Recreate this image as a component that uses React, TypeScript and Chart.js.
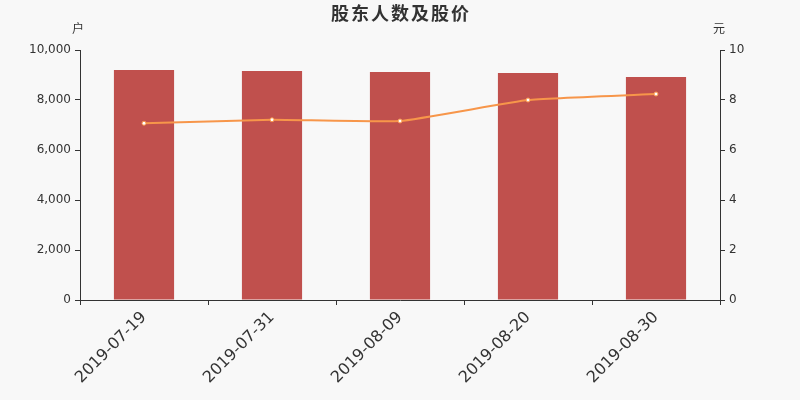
import Chart from "chart.js/auto";
import { useEffect, useRef } from "react";

const dates = ["2019-07-19", "2019-07-31", "2019-08-09", "2019-08-20", "2019-08-30"];
const holders = [9200, 9160, 9120, 9080, 8920];
const prices = [7.07, 7.21, 7.16, 8.0, 8.24];
const title = "股东人数及股价";
const leftUnit = "户";
const rightUnit = "元";

const textFont = "'DejaVu Sans', 'Noto Sans CJK SC', sans-serif";

const headerPlugin = {
  id: "header",
  afterDraw(chart: Chart) {
    const { ctx, chartArea } = chart;
    ctx.save();
    ctx.fillStyle = "#333";
    ctx.textAlign = "center";
    ctx.textBaseline = "middle";
    ctx.font = `bold 18px 'Noto Sans CJK SC', sans-serif`;
    (ctx as any).letterSpacing = "2px";
    ctx.fillText(title, chart.width / 2 + 1, 13);
    (ctx as any).letterSpacing = "0px";
    ctx.font = `12px 'Noto Sans CJK SC', sans-serif`;
    ctx.fillText(leftUnit, chartArea.left - 2, 28);
    ctx.fillText(rightUnit, chartArea.right - 1, 28);
    ctx.restore();
  },
};

export default function App() {
  const canvasRef = useRef<HTMLCanvasElement | null>(null);
  const chartRef = useRef<Chart | null>(null);

  useEffect(() => {
    document.body.style.margin = "0";
    document.body.style.background = "#f8f8f8";
    if (!canvasRef.current) return;
    chartRef.current?.destroy();

    chartRef.current = new Chart(canvasRef.current, {
      type: "bar",
      data: {
        labels: dates,
        datasets: [
          {
            type: "line",
            data: prices,
            yAxisID: "y1",
            borderColor: "#f7964a",
            borderWidth: 2,
            pointRadius: 2,
            pointBackgroundColor: "#ffffff",
            pointBorderColor: "#f7964a",
            pointBorderWidth: 1,
            tension: 0.12,
            order: 0,
          },
          {
            type: "bar",
            data: holders,
            yAxisID: "y",
            backgroundColor: "#c0504d",
            categoryPercentage: 0.47,
            barPercentage: 1,
            order: 1,
          },
        ],
      },
      options: {
        animation: false,
        responsive: true,
        maintainAspectRatio: false,
        layout: { padding: { top: 50, left: 0, right: 0, bottom: 0 } },
        plugins: {
          legend: { display: false },
          title: { display: false },
          tooltip: { enabled: false },
        },
        scales: {
          x: {
            afterFit(scale: any) {
              scale.height = 100;
            },
            grid: {
              offset: true,
              drawOnChartArea: false,
              tickLength: 5,
              color: "#333",
            },
            border: { color: "#333", width: 1 },
            ticks: {
              minRotation: 45,
              maxRotation: 45,
              color: "#333",
              font: { family: textFont, size: 16 },
            },
          },
          y: {
            position: "left",
            min: 0,
            max: 10000,
            afterFit(scale: any) {
              scale.width = 80;
            },
            grid: { drawOnChartArea: false, tickLength: 5, color: "#333" },
            border: { color: "#333", width: 1 },
            ticks: {
              stepSize: 2000,
              color: "#333",
              padding: 4,
              font: { family: textFont, size: 12 },
              callback: (v: any) => Number(v).toLocaleString("en-US"),
            },
          },
          y1: {
            position: "right",
            min: 0,
            max: 10,
            afterFit(scale: any) {
              scale.width = 80;
            },
            grid: { drawOnChartArea: false, tickLength: 5, color: "#333" },
            border: { color: "#333", width: 1 },
            ticks: {
              stepSize: 2,
              color: "#333",
              padding: 4,
              font: { family: textFont, size: 12 },
            },
          },
        },
      },
      plugins: [headerPlugin],
    });

    return () => {
      chartRef.current?.destroy();
    };
  }, []);

  return (
    <div style={{ width: 800, height: 400, background: "#f8f8f8" }}>
      <canvas ref={canvasRef} />
    </div>
  );
}
